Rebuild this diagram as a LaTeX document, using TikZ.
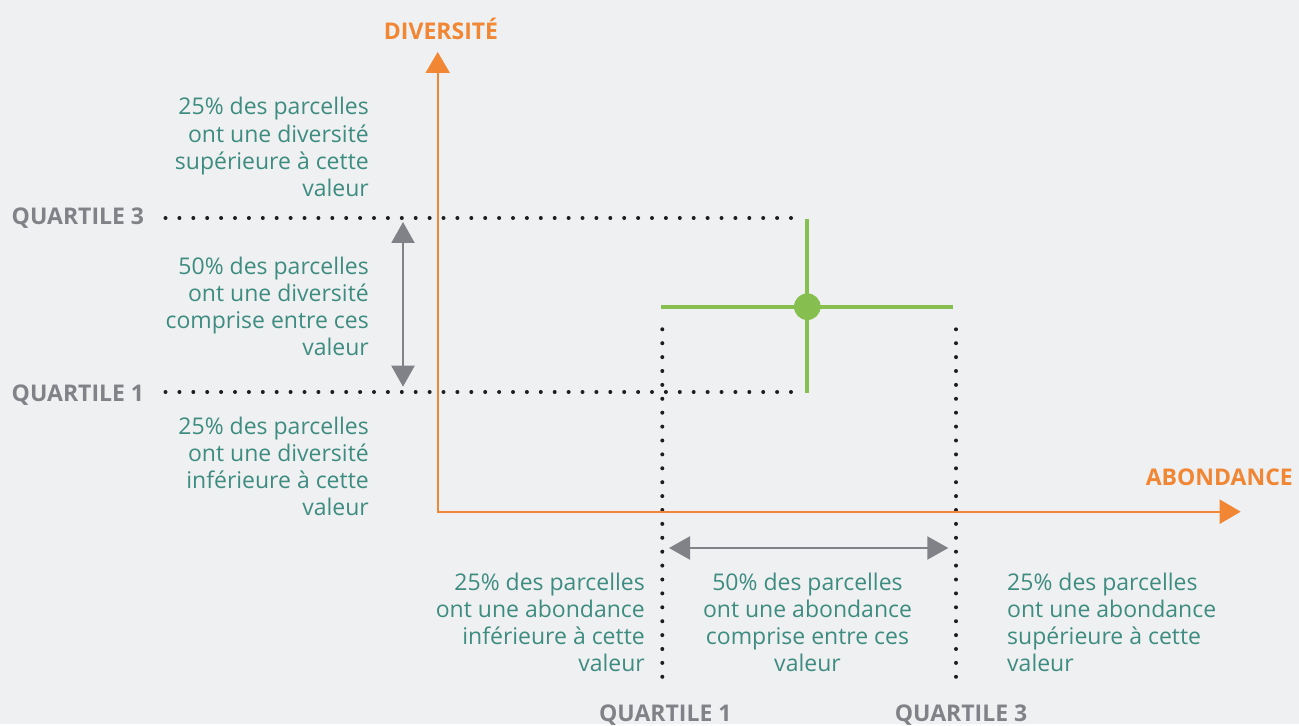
\documentclass[tikz,border=0pt]{standalone}
\usepackage{fontspec}
\setmainfont{Open Sans}
\usetikzlibrary{arrows.meta,positioning}

\definecolor{bgcol}{RGB}{239,240,242}
\definecolor{tealtxt}{RGB}{62,140,128}
\definecolor{orangeax}{RGB}{241,134,52}
\definecolor{greenq}{RGB}{134,190,80}
\definecolor{graylab}{RGB}{128,130,136}
\definecolor{dotcol}{RGB}{30,30,32}

\begin{document}
\begin{tikzpicture}[x=1pt,y=-1pt,
  txt/.style={text=tealtxt, inner sep=0pt, font=\fontsize{23}{27.3}\selectfont},
  qlab/.style={text=graylab, inner sep=0pt, font=\fontsize{23}{27.3}\selectfont\bfseries},
  axlab/.style={text=orangeax, inner sep=0pt, font=\fontsize{23}{27.3}\selectfont\bfseries},
  dotline/.style={draw=dotcol, line width=4pt, line cap=round, dash pattern=on 0pt off 13.9pt},
  axisline/.style={draw=orangeax, line width=2.2pt, line join=miter,
    {Triangle[width=24pt,length=21pt]}-{Triangle[width=24pt,length=21pt]}},
  spanarrow/.style={draw=graylab, line width=2.2pt,
    {Triangle[width=23pt,length=21pt]}-{Triangle[width=23pt,length=21pt]}},
  medline/.style={draw=greenq, line width=4pt}]

% background
\fill[bgcol] (0,0) rectangle (1299,724);

% axes
\coordinate (O) at (437.7,511.7);
\coordinate (ytip) at (437.7,52);
\coordinate (xtip) at (1240.7,511.7);

% ends of the quartile lines
\coordinate (q3a) at (165.5,218);
\coordinate (q3b) at (791,218);
\coordinate (q1a) at (165.5,392);
\coordinate (q1b) at (791,392);
\coordinate (v1a) at (662.3,329.3);
\coordinate (v1b) at (662.3,689);
\coordinate (v3a) at (956,329.3);
\coordinate (v3b) at (956,689);

% green cross
\coordinate (med) at (807.3,306.7);
\coordinate (hl) at (661,306.7);
\coordinate (hr) at (952.7,306.7);
\coordinate (vt) at (807.3,219.3);
\coordinate (vb) at (807.3,393.3);

% span arrows
\coordinate (sa) at (403,222);
\coordinate (sb) at (403,386.7);
\coordinate (sc) at (669,548);
\coordinate (sd) at (948.3,548);

% dotted quartile lines
\draw[dotline] (q3a) -- (q3b);
\draw[dotline] (q1a) -- (q1b);
\draw[dotline] (v1a) -- (v1b);
\draw[dotline] (v3a) -- (v3b);

% axes with arrows
\draw[axisline] (ytip) -- (O) -- (xtip);
\node[axlab, anchor=base] (diversite) at (441,39.3) {DIVERSITÉ};
\node[axlab, anchor=base east] (abondance) at (1293,485.7) {ABONDANCE};

% median and quartiles
\draw[medline] (hl) -- (hr);
\draw[medline] (vt) -- (vb);
\fill[greenq] (med) circle[radius=13.3];

% spans between quartiles
\draw[spanarrow] (sa) -- (sb);
\draw[spanarrow] (sc) -- (sd);

% quartile labels
\node[qlab, anchor=base west] (q3left) at (11.5,225) {QUARTILE 3};
\node[qlab, anchor=base west] (q1left) at (11.5,402) {QUARTILE 1};
\node[qlab, below=16pt of v1b, xshift=3pt] (q1bot) {QUARTILE 1};
\node[qlab, below=16pt of v3b, xshift=5pt] (q3bot) {QUARTILE 3};

% diversity texts
\node[txt, align=right, anchor=base east] (divhaut) at (369,196.9)
  {25\% des parcelles\\ont une diversité\\supérieure à cette\\valeur};
\node[txt, align=right, anchor=base east] (divmil) at (369,355.9)
  {50\% des parcelles\\ont une diversité\\comprise entre ces\\valeur};
\node[txt, align=right, anchor=base east] (divbas) at (369,515.9)
  {25\% des parcelles\\ont une diversité\\inférieure à cette\\valeur};

% abundance texts
\node[txt, align=right, anchor=base east] (abbas) at (645,671.9)
  {25\% des parcelles\\ont une abondance\\inférieure à cette\\valeur};
\node[txt, align=center, anchor=base] (abmil) at (807.5,671.9)
  {50\% des parcelles\\ont une abondance\\comprise entre ces\\valeur};
\node[txt, align=left, anchor=base west] (abhaut) at (1007,671.9)
  {25\% des parcelles\\ont une abondance\\supérieure à cette\\valeur};

\end{tikzpicture}
\end{document}
